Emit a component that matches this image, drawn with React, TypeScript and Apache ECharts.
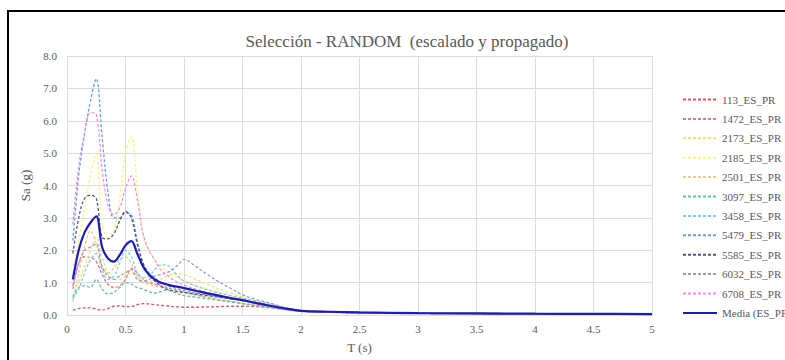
import React, { useEffect, useRef } from "react";
import * as echarts from "echarts";

// Period axis (s)
const periods = [0.05, 0.1, 0.15, 0.2, 0.25, 0.3, 0.35, 0.4, 0.45, 0.5, 0.55, 0.6, 0.65, 0.7, 0.75, 0.8, 0.85, 0.9, 0.95, 1.0, 1.1, 1.2, 1.3, 1.4, 1.5, 1.6, 1.7, 1.8, 1.9, 2.0, 2.25, 2.5, 3.0, 3.5, 4.0, 4.5, 5.0];

// Spectral accelerations Sa (g) per record
const s113 = [0.15, 0.2, 0.22, 0.22, 0.18, 0.15, 0.2, 0.27, 0.28, 0.26, 0.26, 0.32, 0.35, 0.34, 0.32, 0.3, 0.28, 0.26, 0.25, 0.24, 0.24, 0.25, 0.26, 0.27, 0.27, 0.26, 0.24, 0.2, 0.16, 0.12, 0.09, 0.07, 0.05, 0.04, 0.035, 0.03, 0.03];
const s1472 = [0.9, 1.6, 1.8, 1.78, 1.65, 1.25, 0.95, 0.85, 0.9, 1.1, 1.45, 1.3, 1.1, 1.0, 0.95, 0.9, 0.85, 0.8, 0.75, 0.7, 0.62, 0.55, 0.48, 0.42, 0.36, 0.3, 0.25, 0.2, 0.16, 0.12, 0.09, 0.07, 0.05, 0.04, 0.035, 0.03, 0.03];
const s2173 = [0.6, 1.0, 1.5, 2.0, 2.4, 1.8, 1.3, 1.1, 1.1, 1.2, 1.3, 1.2, 1.1, 1.05, 1.05, 1.1, 1.2, 1.25, 1.28, 1.25, 1.1, 0.95, 0.8, 0.68, 0.55, 0.45, 0.36, 0.28, 0.2, 0.14, 0.1, 0.08, 0.06, 0.05, 0.04, 0.035, 0.03];
const s2185 = [1.5, 2.3, 3.3, 4.3, 5.0, 2.8, 2.4, 2.6, 3.6, 5.0, 5.5, 4.0, 2.5, 2.0, 1.7, 1.5, 1.35, 1.25, 1.15, 1.05, 0.9, 0.8, 0.7, 0.6, 0.5, 0.42, 0.34, 0.26, 0.19, 0.14, 0.1, 0.08, 0.06, 0.05, 0.04, 0.035, 0.03];
const s2501 = [0.4, 1.3, 2.1, 2.6, 2.2, 1.5, 1.3, 1.45, 1.7, 1.8, 1.6, 1.2, 1.0, 0.95, 0.9, 0.85, 0.8, 0.75, 0.7, 0.68, 0.6, 0.55, 0.48, 0.42, 0.36, 0.3, 0.25, 0.2, 0.15, 0.12, 0.09, 0.07, 0.05, 0.04, 0.035, 0.03, 0.03];
const s3097 = [0.55, 0.85, 0.9, 0.85, 1.1, 0.8, 0.65, 0.7, 0.85, 1.0, 0.95, 0.85, 0.8, 0.72, 0.68, 0.72, 0.78, 0.72, 0.65, 0.6, 0.55, 0.5, 0.45, 0.4, 0.35, 0.3, 0.25, 0.2, 0.16, 0.12, 0.09, 0.07, 0.05, 0.04, 0.035, 0.03, 0.03];
const s3458 = [0.5, 0.8, 1.3, 1.7, 1.9, 1.4, 1.1, 1.2, 1.6, 2.0, 1.8, 1.3, 1.15, 1.2, 1.4, 1.55, 1.55, 1.4, 1.2, 1.05, 0.9, 0.78, 0.68, 0.6, 0.52, 0.44, 0.36, 0.28, 0.2, 0.14, 0.1, 0.08, 0.06, 0.05, 0.04, 0.035, 0.03];
const s5479 = [2.3, 4.3, 5.6, 6.6, 7.3, 5.5, 3.8, 3.0, 3.0, 3.15, 3.1, 2.3, 1.6, 1.3, 1.15, 1.0, 0.92, 0.85, 0.8, 0.75, 0.68, 0.62, 0.56, 0.5, 0.45, 0.38, 0.3, 0.22, 0.16, 0.12, 0.09, 0.07, 0.05, 0.04, 0.035, 0.03, 0.03];
const s5585 = [1.9, 3.0, 3.6, 3.7, 3.6, 2.4, 2.35, 2.5, 2.9, 3.2, 3.0, 2.2, 1.6, 1.25, 1.05, 0.9, 0.8, 0.75, 0.72, 0.7, 0.65, 0.6, 0.55, 0.5, 0.45, 0.38, 0.3, 0.22, 0.16, 0.12, 0.09, 0.07, 0.05, 0.04, 0.035, 0.03, 0.03];
const s6032 = [0.8, 1.6, 2.0, 2.1, 2.2, 1.5, 1.2, 1.1, 1.2, 1.3, 1.4, 1.1, 1.05, 1.1, 1.2, 1.25, 1.3, 1.4, 1.55, 1.72, 1.5, 1.25, 1.02, 0.82, 0.62, 0.5, 0.4, 0.3, 0.2, 0.14, 0.1, 0.08, 0.06, 0.05, 0.04, 0.035, 0.03];
const s6708 = [2.8, 4.6, 5.6, 6.25, 6.2, 4.5, 3.4, 3.1, 3.3, 3.9, 4.3, 3.6, 2.5, 2.0, 1.7, 1.4, 1.25, 1.1, 1.0, 0.92, 0.8, 0.7, 0.6, 0.52, 0.44, 0.36, 0.28, 0.21, 0.15, 0.11, 0.08, 0.06, 0.05, 0.04, 0.035, 0.03, 0.03];
const media = [1.1, 2.0, 2.55, 2.85, 3.05, 2.1, 1.75, 1.65, 1.85, 2.15, 2.28, 1.9, 1.5, 1.25, 1.1, 1.0, 0.95, 0.9, 0.87, 0.83, 0.75, 0.67, 0.6, 0.52, 0.46, 0.38, 0.31, 0.24, 0.18, 0.13, 0.1, 0.08, 0.06, 0.05, 0.04, 0.035, 0.03];

const records = [
  { name: "113_ES_PR", color: "#d9595b", values: s113 },
  { name: "1472_ES_PR", color: "#f07478", values: s1472 },
  { name: "2173_ES_PR", color: "#ece07a", values: s2173 },
  { name: "2185_ES_PR", color: "#f8f47e", values: s2185 },
  { name: "2501_ES_PR", color: "#efc98e", values: s2501 },
  { name: "3097_ES_PR", color: "#5cc4a6", values: s3097 },
  { name: "3458_ES_PR", color: "#78d0e6", values: s3458 },
  { name: "5479_ES_PR", color: "#66a0d8", values: s5479 },
  { name: "5585_ES_PR", color: "#505684", values: s5585 },
  { name: "6032_ES_PR", color: "#a394c2", values: s6032 },
  { name: "6708_ES_PR", color: "#f08ef0", values: s6708 },
];
const mediaName = "Media (ES_PR)";

const FONT = "'Liberation Serif', 'Times New Roman', serif";
const TEXT = "#595959";
const GRID = "#dcdcdc";

export default function App() {
  const ref = useRef<HTMLDivElement>(null);

  useEffect(() => {
    if (!ref.current) return;
    const chart = echarts.init(ref.current, undefined, { renderer: "svg" });

    const pair = (vals: number[]) => periods.map((t, i) => [t, vals[i]]);

    const series: any[] = records.map((r) => ({
      name: r.name,
      type: "line",
      data: pair(r.values),
      smooth: 0.35,
      symbol: "none",
      lineStyle: { color: r.color, width: 1.3, type: [3, 2] },
      itemStyle: { color: r.color },
      z: 2,
    }));
    series.push({
      name: mediaName,
      type: "line",
      data: pair(media),
      smooth: 0.35,
      symbol: "none",
      lineStyle: { color: "#1c1cb8", width: 2.2 },
      itemStyle: { color: "#1c1cb8" },
      z: 3,
    });

    chart.setOption({
      animation: false,
      backgroundColor: "#ffffff",
      title: {
        text: "Selección - RANDOM  (escalado y propagado)",
        left: 402,
        textAlign: "center",
        top: 28,
        textStyle: { fontFamily: FONT, fontSize: 17, fontWeight: "normal", color: TEXT },
      },
      graphic: [
        {
          type: "line",
          shape: { x1: 8, y1: 11, x2: 785, y2: 11 },
          style: { stroke: "#000000", lineWidth: 2 },
          silent: true,
        },
        {
          type: "line",
          shape: { x1: 8, y1: 10, x2: 8, y2: 360 },
          style: { stroke: "#000000", lineWidth: 2 },
          silent: true,
        },
      ],
      grid: { left: 67, right: 133, top: 56, bottom: 45 },
      legend: {
        orient: "vertical",
        left: 677,
        top: 89,
        itemWidth: 34,
        itemHeight: 8,
        itemGap: 8.4,
        itemStyle: { opacity: 0 },
        textStyle: { fontFamily: FONT, fontSize: 11, color: TEXT },
        data: [...records.map((r) => r.name), mediaName],
      },
      xAxis: {
        type: "value",
        min: 0,
        max: 5,
        interval: 0.5,
        name: "T (s)",
        nameLocation: "middle",
        nameGap: 26,
        nameTextStyle: { fontFamily: FONT, fontSize: 13, color: TEXT },
        axisLine: { show: true, lineStyle: { color: GRID } },
        axisTick: { show: false },
        axisLabel: { fontFamily: FONT, fontSize: 11, color: TEXT, margin: 8 },
        splitLine: { show: true, lineStyle: { color: GRID, width: 1 } },
      },
      yAxis: {
        type: "value",
        min: 0,
        max: 8,
        interval: 1,
        name: "Sa (g)",
        nameLocation: "middle",
        nameGap: 21,
        nameTextStyle: { fontFamily: FONT, fontSize: 13, color: TEXT },
        axisLine: { show: true, lineStyle: { color: GRID } },
        axisTick: { show: false },
        axisLabel: {
          fontFamily: FONT,
          fontSize: 11,
          color: TEXT,
          margin: 10,
          formatter: (v: number) => v.toFixed(1),
        },
        splitLine: { show: true, lineStyle: { color: GRID, width: 1 } },
      },
      series,
    });

    return () => chart.dispose();
  }, []);

  return (
    <div
      ref={ref}
      style={{ position: "absolute", left: 0, top: 0, width: 785, height: 360 }}
    />
  );
}
